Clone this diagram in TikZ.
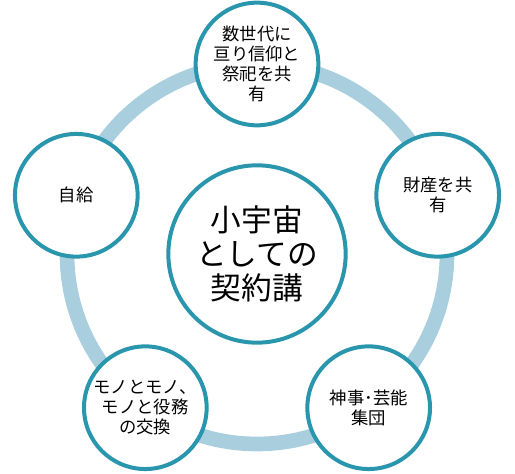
\documentclass[tikz,border=0pt]{standalone}
\usepackage{fontspec}
\setmainfont{Noto Sans CJK JP}
\usetikzlibrary{calc}
\definecolor{ringblue}{HTML}{A9CEDE}
\definecolor{rimteal}{HTML}{2A96AD}
\newcommand{\tightlines}{\lineskiplimit=-20pt\relax\lineskip=0pt\relax}

\begin{document}
\begin{tikzpicture}[x=0.75pt, y=0.75pt,
  hubnode/.style={circle, draw=rimteal, line width=3pt, fill=white,
              minimum size=133pt, inner sep=0pt, align=center,
              font=\fontsize{23pt}{25.5pt}\selectfont\tightlines},
  leaf/.style={circle, draw=rimteal, line width=3pt, fill=white,
              minimum size=92pt, inner sep=0pt, align=center,
              font=\fontsize{13pt}{15pt}\selectfont\tightlines},
  ring/.style={draw=ringblue, line width=11pt},
]
\useasboundingbox (0,0) rectangle (515,474);

%% --- Ring behind the circles ---
\coordinate (mid) at (257,220);
\draw[ring] (mid) circle [radius=142.5pt];

%% --- Centre ---
\node[hubnode] (hub) at (mid) {小宇宙\\としての\\契約講};

%% --- Outer circles ---
\node[leaf] (faith) at ([shift={(90:142.5pt)}]mid) {数世代に\\亘り信仰と\\祭祀を共\\有};
\node[leaf] (goods) at ([shift={(18:142.5pt)}]mid) {財産を共\\有};
\node[leaf] (rites) at ([shift={(-54:142.5pt)}]mid) {神事･芸能\\集団};
\node[leaf] (trade) at ([shift={(-126:142.5pt)}]mid) {モノとモノ、\\モノと役務\\の交換};
\node[leaf] (self) at ([shift={(162:142.5pt)}]mid) {自給};
\end{tikzpicture}
\end{document}
